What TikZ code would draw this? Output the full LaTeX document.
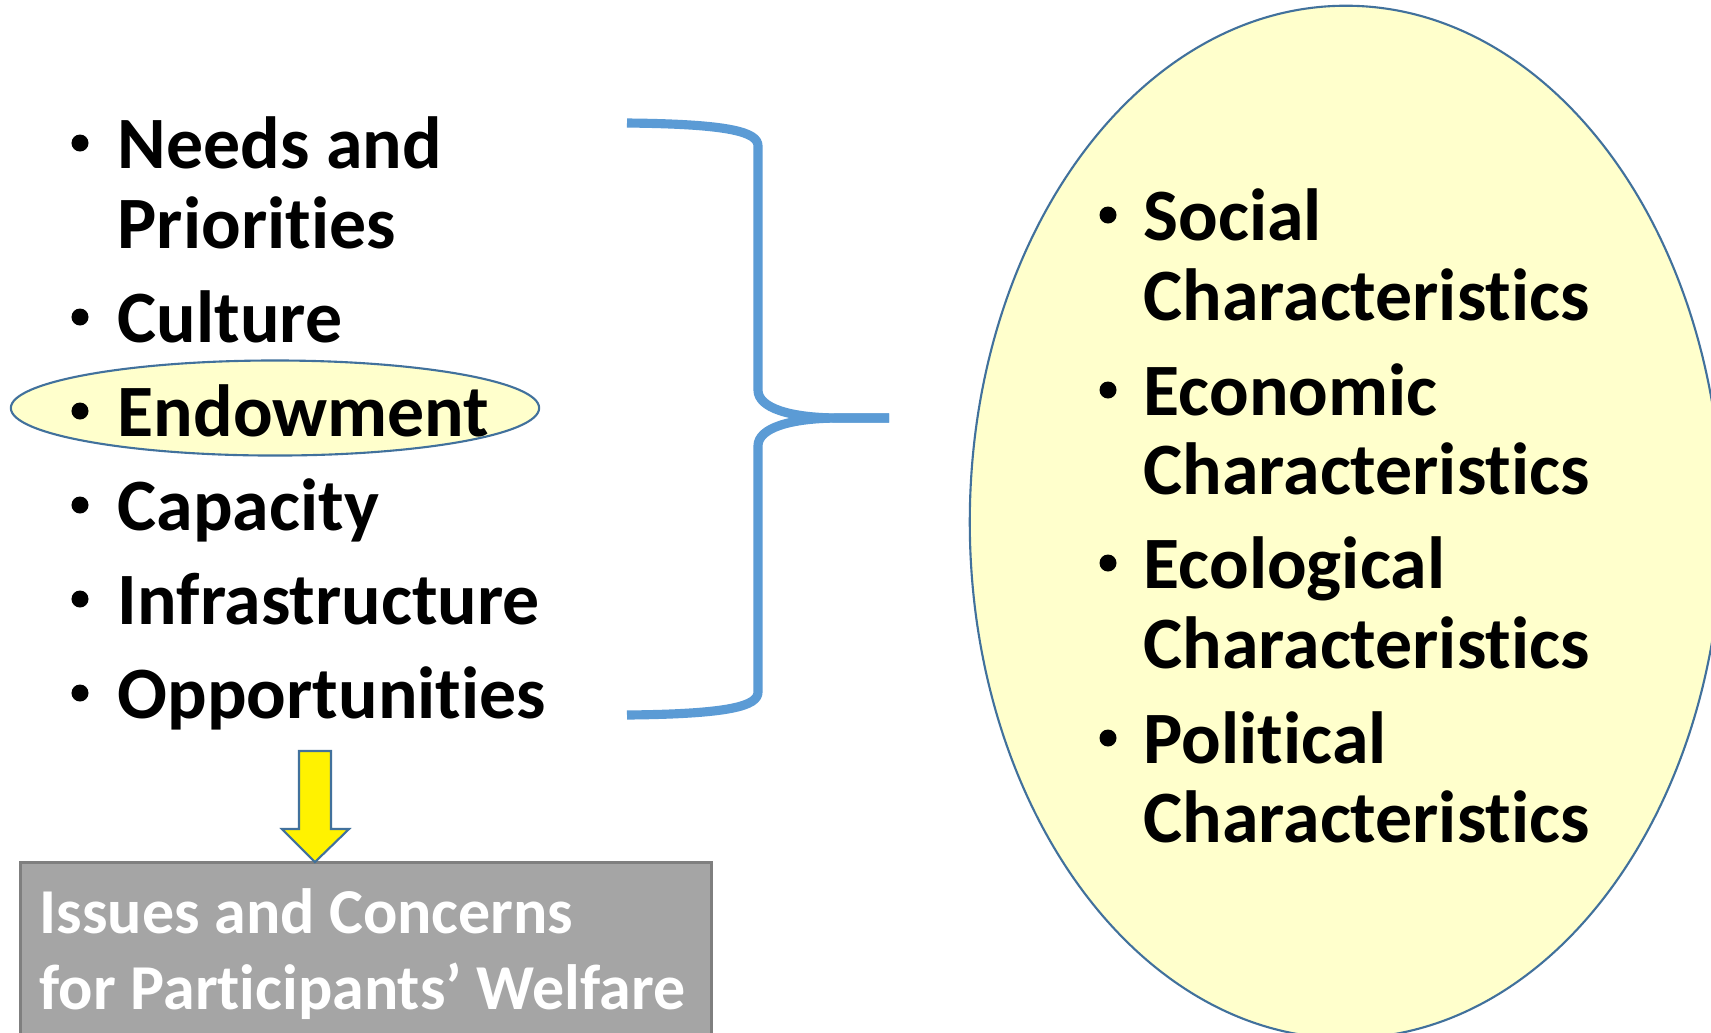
\documentclass[tikz,border=0pt]{standalone}
\usepackage{fontspec}
\setmainfont[Ligatures=NoCommon]{Carlito}
\usetikzlibrary{shapes.geometric}
\definecolor{braceblue}{HTML}{5B9BD5}
\definecolor{edgeblue}{HTML}{41719C}
\definecolor{paleyellow}{HTML}{FFFFCC}
\definecolor{boxgray}{HTML}{A5A5A5}
\definecolor{boxedge}{HTML}{7F7F7F}
\begin{document}
\begin{tikzpicture}[x=0.01cm,y=-0.01cm,
  itemtext/.style={anchor=base west, inner sep=0pt, font=\fontsize{21}{25}\selectfont\bfseries},
  bul/.style={circle, fill=black, inner sep=0pt, minimum size=0.17cm},
  boxtext/.style={anchor=base west, inner sep=0pt, text=white, font=\fontsize{18.2}{22}\selectfont\bfseries},
  bracepart/.style={draw=braceblue, line width=2.6pt}
]
\useasboundingbox (0,0) rectangle (1711,1032);
\fill[white] (0,0) rectangle (1711,1032);
\begin{scope}
\clip (0,0) rectangle (1711,1032);
% big ellipse
\node[ellipse, draw=edgeblue, fill=paleyellow, line width=0.6pt, inner sep=0pt,
      minimum width=7.52cm, minimum height=10.32cm] (big) at (1346,522) {};
% gray box
\node[rectangle, draw=boxedge, fill=boxgray, line width=0.8pt, inner sep=0pt,
      minimum width=6.91cm, minimum height=2.0cm, anchor=north west] (box) at (19,861) {};
\end{scope}
% small ellipse
\node[ellipse, draw=edgeblue, fill=paleyellow, line width=0.6pt, inner sep=0pt,
      minimum width=5.28cm, minimum height=0.95cm] (endo) at (275,408) {};

% left list
\node[bul] (b1) at (80,143) {};
\node[itemtext] (l1a) at (117,168) {Needs and};
\node[itemtext] (l1b) at (117,248) {Priorities};
\node[bul] (b2) at (80,317) {};
\node[itemtext] (l2) at (117,342) {Culture};
\node[bul] (b3) at (80,411) {};
\node[itemtext] (l3) at (117,436) {Endowment};
\node[bul] (b4) at (80,505) {};
\node[itemtext] (l4) at (117,530) {Capacity};
\node[bul] (b5) at (80,599) {};
\node[itemtext] (l5) at (117,624) {Infrastructure};
\node[bul] (b6) at (80,693) {};
\node[itemtext] (l6) at (117,718) {Opportunities};

% right list
\node[bul] (r1b) at (1108,215) {};
\node[itemtext] (r1) at (1143,240) {Social};
\node[itemtext] (r1c) at (1143,320) {Characteristics};
\node[bul] (r2b) at (1108,390) {};
\node[itemtext] (r2) at (1143,415) {Economic};
\node[itemtext] (r2c) at (1143,494) {Characteristics};
\node[bul] (r3b) at (1108,563) {};
\node[itemtext] (r3) at (1143,588) {Ecological};
\node[itemtext] (r3c) at (1143,668) {Characteristics};
\node[bul] (r4b) at (1108,738) {};
\node[itemtext] (r4) at (1143,763) {Political};
\node[itemtext] (r4c) at (1143,842) {Characteristics};

% brace
\coordinate (btop) at (627,123);
\coordinate (bbot) at (627,715);
\coordinate (btip) at (889,418);
\draw[bracepart] (btop) .. controls (730,124) and (758,132) .. (758,146)
  -- (758,390) .. controls (758,408) and (790,418) .. (840,418) -- (btip);
\draw[bracepart] (btip) -- (840,418) .. controls (790,418) and (758,428) .. (758,446)
  -- (758,692) .. controls (758,706) and (730,714) .. (bbot);

% yellow arrow
\coordinate (atip) at (315,862);
\draw[edgeblue, fill=yellow, line width=0.6pt, line join=miter]
  (299,751) -- (331,751) -- (331,829) -- (349,829) -- (atip) -- (282,829) -- (299,829) -- cycle;

% box text
\node[boxtext] (t1) at (39,933) {Issues and Concerns};
\node[boxtext] (t2) at (39,1009) {for Participants’ Welfare};
\end{tikzpicture}
\end{document}
